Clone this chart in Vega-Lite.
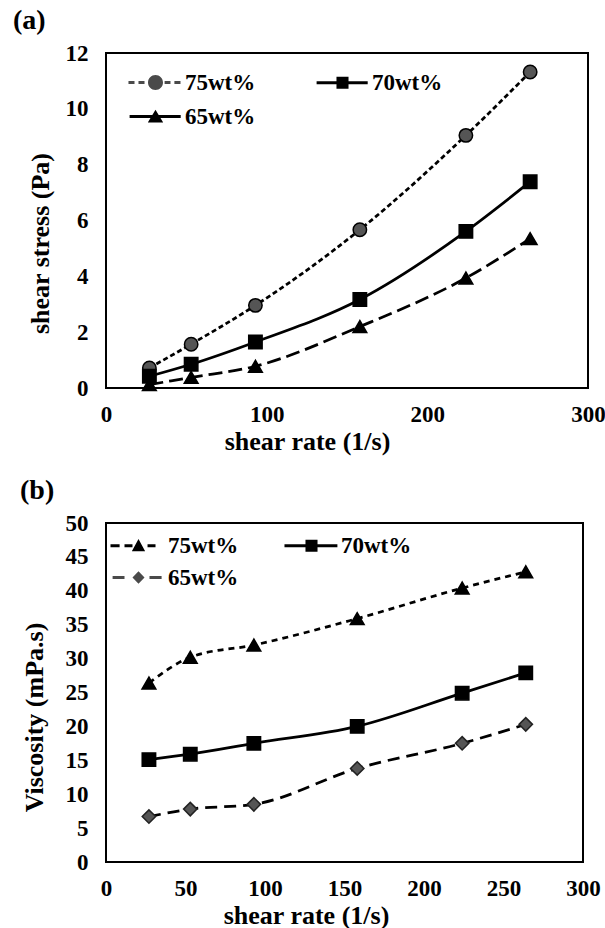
{
  "$schema": "https://vega.github.io/schema/vega-lite/v6.json",
  "padding": {"left": 12, "top": 6, "right": 0, "bottom": 0},
  "spacing": 21,
  "resolve": {"scale": {"shape": "independent", "fill": "independent"}},
  "config": {
    "view": {"stroke": "#000", "strokeWidth": 2},
    "font": "Liberation Serif",
    "axis": {"grid": false, "ticks": false, "tickSize": 0, "domain": false, "labelFont": "Liberation Serif", "labelFontWeight": "bold", "labelFontSize": 23, "labelColor": "#000", "titleFont": "Liberation Serif", "titleFontWeight": "bold", "titleFontSize": 26, "titleColor": "#000", "labelFlush": false, "labelOverlap": false, "labelBound": false},
    "axisX": {"labelPadding": 15, "titleAlign": "center", "titleBaseline": "alphabetic"},
    "axisY": {"labelPadding": 18, "titleAlign": "center", "titleBaseline": "bottom"},
    "legend": {"columns": 2, "direction": "horizontal", "padding": 0, "labelFont": "Liberation Serif", "labelFontWeight": "bold", "labelFontSize": 23, "labelColor": "#000", "labelOffset": 18, "symbolSize": 196, "symbolOpacity": 1, "symbolStrokeColor": "#000", "symbolStrokeWidth": 2.5}
  },
  "datasets": {
    "a": [
      {"series": "75wt%", "rate": 27, "stress": 0.72},
      {"series": "75wt%", "rate": 53, "stress": 1.57},
      {"series": "75wt%", "rate": 93, "stress": 2.96},
      {"series": "75wt%", "rate": 158, "stress": 5.67},
      {"series": "75wt%", "rate": 224, "stress": 9.05},
      {"series": "75wt%", "rate": 264, "stress": 11.32},
      {"series": "70wt%", "rate": 27, "stress": 0.42},
      {"series": "70wt%", "rate": 53, "stress": 0.85},
      {"series": "70wt%", "rate": 93, "stress": 1.65},
      {"series": "70wt%", "rate": 158, "stress": 3.17},
      {"series": "70wt%", "rate": 224, "stress": 5.61},
      {"series": "70wt%", "rate": 264, "stress": 7.39},
      {"series": "65wt%", "rate": 27, "stress": 0.12},
      {"series": "65wt%", "rate": 53, "stress": 0.38},
      {"series": "65wt%", "rate": 93, "stress": 0.78},
      {"series": "65wt%", "rate": 158, "stress": 2.2},
      {"series": "65wt%", "rate": 224, "stress": 3.94},
      {"series": "65wt%", "rate": 264, "stress": 5.35}
    ],
    "b": [
      {"series": "75wt%", "rate": 27, "visc": 26.4},
      {"series": "75wt%", "rate": 53, "visc": 30.2},
      {"series": "75wt%", "rate": 93, "visc": 32.0},
      {"series": "75wt%", "rate": 158, "visc": 35.9},
      {"series": "75wt%", "rate": 224, "visc": 40.4},
      {"series": "75wt%", "rate": 264, "visc": 42.8},
      {"series": "70wt%", "rate": 27, "visc": 15.1},
      {"series": "70wt%", "rate": 53, "visc": 15.9},
      {"series": "70wt%", "rate": 93, "visc": 17.5},
      {"series": "70wt%", "rate": 158, "visc": 20.0},
      {"series": "70wt%", "rate": 224, "visc": 24.9},
      {"series": "70wt%", "rate": 264, "visc": 27.9},
      {"series": "65wt%", "rate": 27, "visc": 6.7},
      {"series": "65wt%", "rate": 53, "visc": 7.8},
      {"series": "65wt%", "rate": 93, "visc": 8.5},
      {"series": "65wt%", "rate": 158, "visc": 13.8},
      {"series": "65wt%", "rate": 224, "visc": 17.5},
      {"series": "65wt%", "rate": 264, "visc": 20.3}
    ]
  },
  "vconcat": [
    {
      "width": 482,
      "height": 335,
      "title": {"text": "(a)", "dx": -93, "offset": -15, "anchor": "start", "frame": "group", "baseline": "alphabetic", "font": "Liberation Serif", "fontWeight": "bold", "fontSize": 28, "color": "#000"},
      "data": {"name": "a"},
      "encoding": {
        "x": {"field": "rate", "type": "quantitative", "scale": {"domain": [0, 300]}, "axis": {"values": [0, 100, 200, 300], "title": "shear rate (1/s)", "titleX": 201, "titleY": 61}},
        "y": {"field": "stress", "type": "quantitative", "scale": {"domain": [0, 12]}, "axis": {"values": [0, 2, 4, 6, 8, 10, 12], "title": "shear stress (Pa)", "titleX": -53, "titleY": 190}}
      },
      "layer": [
        {"transform": [{"filter": "datum.series === '75wt%'"}], "mark": {"type": "line", "interpolate": "monotone", "strokeWidth": 2.75, "color": "#000", "strokeDash": [5, 3]}, "encoding": {}},
        {"transform": [{"filter": "datum.series === '70wt%'"}], "mark": {"type": "line", "interpolate": "monotone", "strokeWidth": 2.75, "color": "#000"}, "encoding": {}},
        {"transform": [{"filter": "datum.series === '65wt%'"}], "mark": {"type": "line", "interpolate": "monotone", "strokeWidth": 2.75, "color": "#000", "strokeDash": [14, 6]}, "encoding": {}},
        {"transform": [{"filter": "datum.series === '75wt%'"}], "mark": {"type": "point", "shape": "circle", "filled": true, "size": 180, "stroke": "#000", "strokeWidth": 1.5, "opacity": 1, "fill": "#555"}},
        {"transform": [{"filter": "datum.series === '70wt%'"}], "mark": {"type": "point", "shape": "square", "filled": true, "size": 180, "stroke": "#000", "strokeWidth": 1.5, "opacity": 1, "fill": "#000"}},
        {"transform": [{"filter": "datum.series === '65wt%'"}], "mark": {"type": "point", "shape": "triangle-up", "filled": true, "size": 190, "stroke": "#000", "strokeWidth": 1.5, "opacity": 1, "fill": "#000"}},
        {
          "mark": {"type": "point", "filled": true, "size": 196, "stroke": "#000", "strokeWidth": 2.5, "opacity": 0},
          "encoding": {
            "shape": {"field": "series", "type": "nominal",
              "scale": {"domain": ["75wt%", "70wt%", "65wt%"], "range": [
                "M-3.86,-0.2H-3V0.2H-3.86ZM-2.43,-0.2H-1.57V0.2H-2.43ZM1.3,-0.2H2.14V0.2H1.3ZM2.7,-0.2H3.57V0.2H2.7ZM-1.07,0A1.07,1.07,0,1,1,1.07,0A1.07,1.07,0,1,1,-1.07,0Z",
                "M-3.7,-0.2H3.6V0.2H-3.7ZM-0.86,-0.86H0.86V0.86H-0.86Z",
                "M-3.7,-0.2H3.6V0.2H-3.7ZM0,-0.95L1.1,0.85L-1.1,0.85Z"]},
              "legend": {"orient": "none", "legendX": 38, "legendY": 18, "columnPadding": 55, "rowPadding": 9, "title": null}
            },
            "fill": {"field": "series", "type": "nominal",
              "scale": {"domain": ["75wt%", "70wt%", "65wt%"], "range": ["#4a4a4a", "#000", "#000"]},
              "legend": {"orient": "none", "legendX": 38, "legendY": 18, "columnPadding": 55, "rowPadding": 9, "title": null}
            }
          }
        }
      ]
    },
    {
      "width": 477,
      "height": 339,
      "title": {"text": "(b)", "dx": -86, "offset": -15, "anchor": "start", "frame": "group", "baseline": "alphabetic", "font": "Liberation Serif", "fontWeight": "bold", "fontSize": 28, "color": "#000"},
      "data": {"name": "b"},
      "encoding": {
        "x": {"field": "rate", "type": "quantitative", "scale": {"domain": [0, 300]}, "axis": {"values": [0, 50, 100, 150, 200, 250, 300], "title": "shear rate (1/s)", "titleX": 200, "titleY": 61}},
        "y": {"field": "visc", "type": "quantitative", "scale": {"domain": [0, 50]}, "axis": {"values": [0, 5, 10, 15, 20, 25, 30, 35, 40, 45, 50], "title": "Viscosity (mPa.s)", "titleX": -59, "titleY": 194}}
      },
      "layer": [
        {"transform": [{"filter": "datum.series === '75wt%'"}], "mark": {"type": "line", "interpolate": "monotone", "strokeWidth": 2.75, "color": "#000", "strokeDash": [6, 5]}, "encoding": {}},
        {"transform": [{"filter": "datum.series === '70wt%'"}], "mark": {"type": "line", "interpolate": "monotone", "strokeWidth": 2.75, "color": "#000"}, "encoding": {}},
        {"transform": [{"filter": "datum.series === '65wt%'"}], "mark": {"type": "line", "interpolate": "monotone", "strokeWidth": 2.75, "color": "#000", "strokeDash": [12, 7]}, "encoding": {}},
        {"transform": [{"filter": "datum.series === '75wt%'"}], "mark": {"type": "point", "shape": "triangle-up", "filled": true, "size": 190, "stroke": "#000", "strokeWidth": 1.5, "opacity": 1, "fill": "#000"}},
        {"transform": [{"filter": "datum.series === '70wt%'"}], "mark": {"type": "point", "shape": "square", "filled": true, "size": 180, "stroke": "#000", "strokeWidth": 1.5, "opacity": 1, "fill": "#000"}},
        {"transform": [{"filter": "datum.series === '65wt%'"}], "mark": {"type": "point", "shape": "diamond", "filled": true, "size": 180, "stroke": "#222", "strokeWidth": 1.5, "opacity": 1, "fill": "#555"}},
        {
          "mark": {"type": "point", "filled": true, "size": 196, "stroke": "#000", "strokeWidth": 2.5, "opacity": 0},
          "encoding": {
            "shape": {"field": "series", "type": "nominal",
              "scale": {"domain": ["75wt%", "70wt%", "65wt%"], "range": [
                "M-4,-0.2H-2.7V0.2H-4ZM-2,-0.2H-0.86V0.2H-2ZM1.29,-0.2H2.43V0.2H1.29ZM0,-0.95L0.95,0.8L-0.95,0.8Z",
                "M-3.86,-0.2H3.7V0.2H-3.86ZM-0.86,-0.86H0.86V0.86H-0.86Z",
                "M-3.7,-0.2H-2V0.2H-3.7ZM1.57,-0.2H3.3V0.2H1.57ZM0,-0.9L0.86,0L0,0.9L-0.86,0Z"]},
              "legend": {"orient": "none", "legendX": 21, "legendY": 11, "columnPadding": 40, "rowPadding": 8, "title": null}
            },
            "fill": {"field": "series", "type": "nominal",
              "scale": {"domain": ["75wt%", "70wt%", "65wt%"], "range": ["#000", "#000", "#4a4a4a"]},
              "legend": {"orient": "none", "legendX": 21, "legendY": 11, "columnPadding": 40, "rowPadding": 8, "title": null}
            }
          }
        }
      ]
    }
  ]
}
